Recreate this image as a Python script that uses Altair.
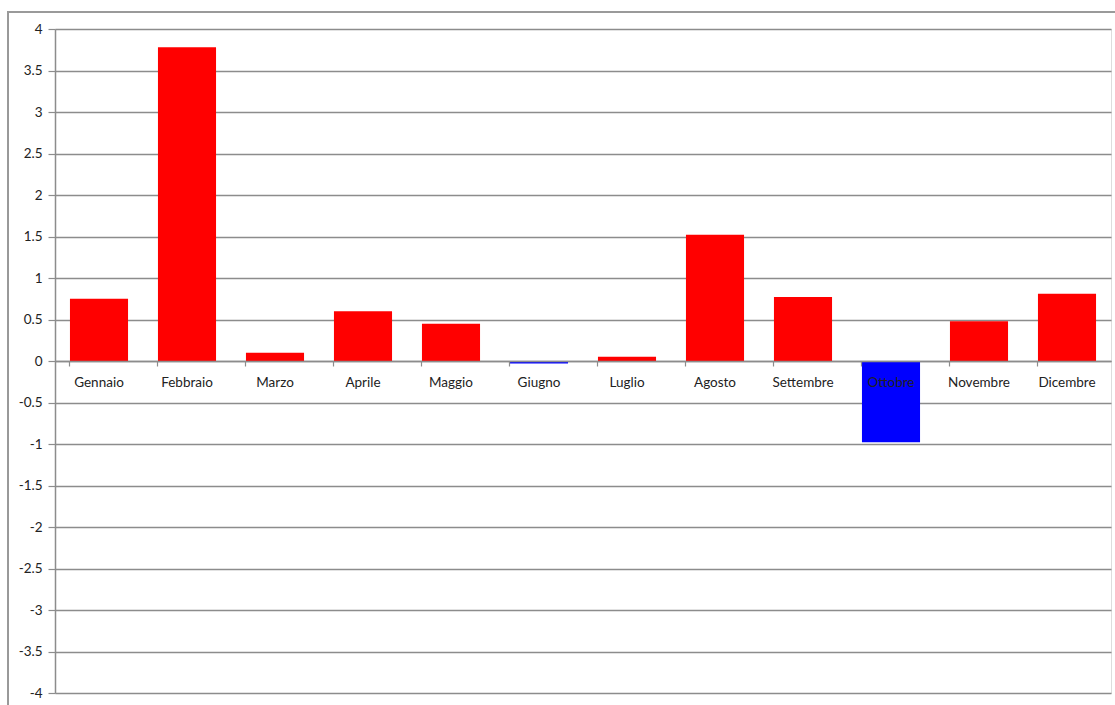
import altair as alt
import pandas as pd

months = ["Gennaio", "Febbraio", "Marzo", "Aprile", "Maggio", "Giugno",
          "Luglio", "Agosto", "Settembre", "Ottobre", "Novembre", "Dicembre"]
values = [0.75, 3.78, 0.10, 0.60, 0.45, -0.03, 0.05, 1.52, 0.77, -0.98, 0.48, 0.81]
y_ticks = [4, 3.5, 3, 2.5, 2, 1.5, 1, 0.5, 0, -0.5, -1, -1.5, -2, -2.5, -3, -3.5, -4]

df = pd.DataFrame({"mese": months, "valore": values})

W, H = 1056, 664
FONT = "Lato"

bars = alt.Chart(df).mark_bar().encode(
    x=alt.X("mese:N", sort=months,
            scale=alt.Scale(paddingInner=0.34, paddingOuter=0.17),
            axis=alt.Axis(title=None, orient="bottom", offset=-H / 2,
                          labelAngle=0, labelFont=FONT, labelFontSize=13.5,
                          labelColor="#222222", labelPadding=9,
                          domainColor="#8c8c8c", domainWidth=1.5,
                          tickColor="#8c8c8c", tickSize=5, tickWidth=1.2,
                          bandPosition=0, grid=False, zindex=1)),
    y=alt.Y("valore:Q",
            scale=alt.Scale(domain=[-4, 4], nice=False, zero=True),
            axis=alt.Axis(title=None, values=y_ticks,
                          labelExpr="datum.value + ''",
                          labelFont=FONT, labelFontSize=13.5, labelColor="#222222",
                          labelPadding=6, tickSize=7, tickColor="#8c8c8c",
                          tickWidth=1.2, domainColor="#8c8c8c", domainWidth=1.5,
                          gridColor="#8c8c8c", gridWidth=1.3, grid=True)),
    color=alt.condition(alt.datum.valore > 0, alt.value("#FF0000"), alt.value("#0000FF")),
)

border = alt.Chart(df).mark_rect(fill=None, stroke="#9a9a9a", strokeWidth=1.2).encode(
    x=alt.value(-47), x2=alt.value(W + 6), y=alt.value(-17), y2=alt.value(H + 20)
)

chart = alt.layer(border, bars).properties(
    width=W, height=H,
    autosize=alt.AutoSizeParams(type="none"),
    padding={"left": 55, "top": 29, "right": 4, "bottom": 12},
).configure_view(stroke=None).configure(background="white")

chart.save("out.html", embed_options={"renderer": "svg", "actions": False})
